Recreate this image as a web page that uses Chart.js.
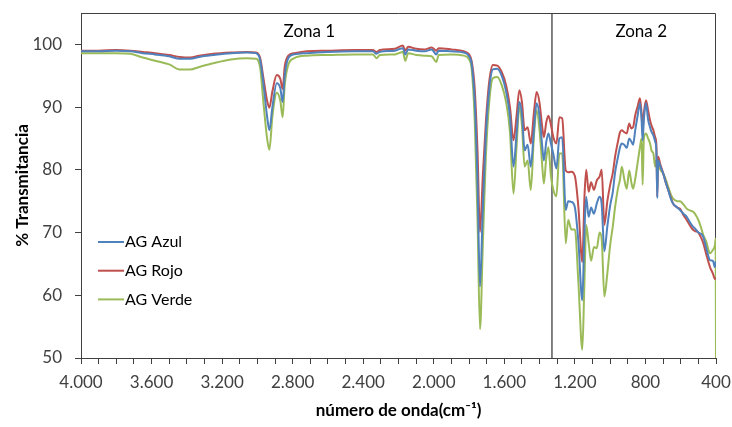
<!DOCTYPE html>
<html>
<head>
<meta charset="utf-8">
<script src="https://cdn.jsdelivr.net/npm/chart.js@4"></script>
<style>
  html, body { margin: 0; padding: 0; background: #fff; }
</style>
</head>
<body>
<canvas id="chart" width="732" height="427"></canvas>
<script>
// wavenumber (cm-1) and % transmittance for each sample
const wavenumber = [4000, 3900, 3800, 3720, 3650, 3580, 3500, 3440, 3380, 3330, 3250, 3150, 3060, 3010, 2985, 2965, 2945, 2932, 2915, 2890, 2870, 2857, 2845, 2825, 2790, 2720, 2600, 2450, 2345, 2325, 2305, 2220, 2175, 2162, 2145, 2100, 2050, 2012, 1986, 1972, 1900, 1830, 1800, 1785, 1768, 1752, 1738, 1722, 1705, 1685, 1665, 1640, 1615, 1590, 1568, 1548, 1530, 1515, 1500, 1485, 1468, 1450, 1432, 1417, 1400, 1386, 1376, 1362, 1350, 1336, 1322, 1305, 1288, 1272, 1252, 1238, 1220, 1200, 1180, 1158, 1146, 1136, 1122, 1108, 1092, 1076, 1060, 1048, 1033, 1016, 1000, 985, 972, 956, 944, 934, 920, 906, 892, 880, 870, 858, 845, 831, 822, 816, 809, 797, 785, 774, 765, 755, 745, 738, 733, 728, 715, 699, 685, 671, 655, 643, 620, 604, 585, 566, 545, 529, 515, 500, 485, 472, 455, 434, 418, 406, 402, 400];

const agAzul = [98.9, 98.9, 99.0, 98.9, 98.6, 98.4, 98.1, 97.7, 97.7, 98.0, 98.3, 98.6, 98.7, 98.6, 97.6, 93.5, 88.5, 86.3, 90.0, 93.8, 93.0, 90.8, 95.0, 97.8, 98.4, 98.6, 98.8, 98.9, 98.9, 98.5, 98.8, 99.0, 99.4, 98.4, 99.2, 99.0, 98.9, 99.2, 98.4, 99.0, 98.9, 98.7, 98.1, 96.8, 91.0, 78.0, 61.4, 74.0, 85.5, 93.0, 96.0, 96.1, 95.0, 92.5, 88.5, 80.5, 86.0, 90.8, 88.8, 83.1, 84.0, 80.5, 86.5, 90.6, 88.5, 84.0, 81.5, 84.5, 85.8, 84.2, 82.5, 80.2, 85.0, 85.2, 73.6, 75.0, 74.9, 74.0, 68.5, 59.2, 70.0, 75.7, 72.5, 74.0, 73.0, 74.6, 75.7, 74.5, 67.0, 71.0, 74.3, 76.5, 79.6, 82.0, 83.6, 84.2, 84.0, 83.5, 85.0, 84.5, 84.0, 86.3, 88.5, 90.6, 88.0, 84.7, 88.0, 90.6, 88.0, 86.8, 86.0, 85.5, 84.5, 83.0, 75.5, 81.5, 80.5, 79.4, 78.0, 76.8, 75.3, 74.6, 74.0, 73.6, 73.0, 72.5, 71.5, 70.9, 70.5, 70.0, 69.8, 69.3, 67.5, 65.6, 65.5, 64.5, 65.3, 65.4];

const agRojo = [99.0, 99.0, 99.1, 99.0, 98.8, 98.6, 98.3, 98.0, 97.9, 98.2, 98.5, 98.7, 98.8, 98.7, 97.9, 94.5, 91.0, 89.9, 92.5, 95.1, 94.5, 92.9, 96.5, 98.2, 98.6, 98.9, 99.0, 99.1, 99.1, 98.8, 99.1, 99.3, 99.8, 99.0, 99.6, 99.3, 99.2, 99.5, 99.0, 99.4, 99.2, 98.9, 98.4, 97.3, 93.0, 83.0, 70.1, 79.0, 87.5, 94.2, 96.7, 96.6, 95.6, 93.5, 90.0, 84.7, 88.8, 92.7, 90.8, 86.3, 86.8, 84.2, 89.2, 92.4, 90.6, 87.0, 85.2, 87.6, 88.6, 87.2, 85.2, 84.2, 88.4, 88.2, 79.9, 79.6, 79.7, 79.0, 74.0, 65.3, 75.5, 80.0, 76.5, 78.0, 76.8, 78.3, 78.9, 80.0, 71.2, 75.0, 77.6, 79.5, 82.1, 84.5, 86.0, 86.3, 86.0, 85.8, 87.4, 86.6, 86.8, 88.7, 90.0, 91.4, 89.0, 86.3, 89.0, 91.1, 89.5, 87.9, 87.0, 86.3, 85.2, 84.0, 75.7, 82.1, 80.8, 79.4, 78.0, 76.8, 75.5, 74.6, 74.0, 73.8, 72.8, 72.0, 71.0, 70.4, 70.2, 70.0, 69.2, 68.3, 66.5, 64.5, 63.5, 62.6, 62.7, 62.7];

const agVerde = [98.6, 98.6, 98.6, 98.5, 97.9, 97.4, 96.8, 96.0, 96.0, 96.4, 97.0, 97.6, 97.8, 97.7, 96.4, 90.5, 85.0, 83.2, 88.5, 92.3, 91.0, 88.4, 93.5, 96.7, 97.8, 98.2, 98.3, 98.4, 98.4, 97.8, 98.3, 98.4, 98.8, 97.4, 98.6, 98.3, 98.2, 98.1, 97.2, 98.3, 98.4, 98.2, 97.6, 96.0, 88.0, 72.0, 54.6, 68.0, 82.0, 91.0, 94.6, 94.8, 93.5, 90.8, 86.0, 76.2, 84.0, 90.0, 87.0, 80.5, 81.5, 76.8, 85.5, 89.5, 86.2, 81.0, 77.8, 82.0, 83.6, 79.0, 76.8, 75.8, 82.6, 82.6, 68.3, 72.0, 70.5, 70.5, 62.0, 51.3, 62.0, 71.2, 68.3, 65.5, 67.7, 67.5, 70.0, 69.0, 59.8, 63.5, 68.0, 71.0, 74.1, 77.0, 78.5, 80.5, 78.5, 77.0, 79.9, 78.0, 77.0, 78.5, 81.0, 83.6, 85.0, 77.6, 85.0, 85.8, 85.0, 84.2, 83.0, 82.6, 80.5, 81.5, 81.6, 81.0, 80.0, 79.4, 78.5, 77.3, 76.0, 75.4, 75.0, 75.0, 74.5, 73.8, 73.5, 73.3, 72.8, 72.0, 70.8, 69.6, 68.5, 66.7, 67.2, 68.0, 69.0, 50.0];

const seriesNames = ['AG Azul', 'AG Rojo', 'AG Verde'];
const seriesColors = ['#4F81BD', '#C0504D', '#9BBB59'];
const seriesValues = [agAzul, agRojo, agVerde];

const xTicksMajor = [4000, 3600, 3200, 2800, 2400, 2000, 1600, 1200, 800, 400];
const zoneBoundary = 1330;
const zoneNames = ['Zona 1', 'Zona 2'];
const zoneLabelAt = [2705, 824];

function fmtWn(v) {
    if (v >= 1000) return Math.floor(v / 1000) + '.' + String(v % 1000).padStart(3, '0');
    return String(v);
}

const datasets = seriesNames.map((name, i) => ({
    label: name,
    data: wavenumber.map((w, j) => ({ x: w, y: seriesValues[i][j] })),
    borderColor: seriesColors[i],
    borderWidth: 2,
    pointRadius: 0,
    fill: false,
    cubicInterpolationMode: 'monotone'
}));

// zone divider line
datasets.push({
    label: 'divider',
    data: [{ x: zoneBoundary, y: 50 }, { x: zoneBoundary, y: 105 }],
    borderColor: '#404040',
    borderWidth: 1.3,
    pointRadius: 0,
    fill: false
});

const framePlugin = {
    id: 'frame',
    beforeDatasetsDraw(chart) {
        const { ctx, chartArea: a } = chart;
        ctx.save();
        ctx.strokeStyle = '#404040';
        ctx.lineWidth = 1;
        ctx.beginPath();
        ctx.moveTo(a.left, a.top + 0.5);
        ctx.lineTo(a.right - 0.5, a.top + 0.5);
        ctx.lineTo(a.right - 0.5, a.bottom);
        ctx.stroke();
        ctx.restore();
    }
};

const zonePlugin = {
    id: 'zones',
    afterDatasetsDraw(chart) {
        const { ctx, scales: { x, y } } = chart;
        ctx.save();
        ctx.font = '17px Lato';
        ctx.fillStyle = '#000';
        ctx.textAlign = 'center';
        ctx.textBaseline = 'middle';
        zoneNames.forEach((t, i) => {
            ctx.fillText(t, x.getPixelForValue(zoneLabelAt[i]), y.getPixelForValue(102.1));
        });
        ctx.restore();
    }
};

const legendPlugin = {
    id: 'insideLegend',
    afterDatasetsDraw(chart) {
        const { ctx, chartArea: a } = chart;
        ctx.save();
        ctx.font = '16px Lato';
        ctx.textBaseline = 'middle';
        ctx.fillStyle = '#000';
        seriesNames.forEach((name, i) => {
            const yy = 242 + i * 28.7;
            ctx.strokeStyle = seriesColors[i];
            ctx.lineWidth = 2;
            ctx.beginPath();
            ctx.moveTo(a.left + 17, yy);
            ctx.lineTo(a.left + 43, yy);
            ctx.stroke();
            ctx.fillText(name, a.left + 44, yy);
        });
        ctx.restore();
    }
};

new Chart(document.getElementById('chart'), {
    type: 'line',
    data: { datasets },
    plugins: [framePlugin, zonePlugin, legendPlugin],
    options: {
        responsive: false,
        animation: false,
        layout: { padding: { top: 13, right: 16, left: 0, bottom: 0 } },
        plugins: { legend: { display: false }, tooltip: { enabled: false } },
        scales: {
            x: {
                type: 'linear',
                reverse: true,
                min: 400,
                max: 4000,
                afterFit: s => { s.height = 69; s.paddingLeft = 0; s.paddingRight = 0; },
                grid: { drawOnChartArea: false, tickLength: 6, color: '#404040' },
                border: { color: '#404040', width: 1 },
                ticks: {
                    stepSize: 100,
                    autoSkip: false,
                    maxRotation: 0,
                    padding: 8,
                    color: '#404040',
                    font: { family: 'Lato', size: 17 },
                    callback: v => (xTicksMajor.includes(v) ? fmtWn(v) : '')
                },
                title: {
                    display: true,
                    text: 'número de onda(cm⁻¹)',
                    color: '#000',
                    font: { family: 'Lato', size: 17, weight: 'bold' },
                    padding: { top: 0, bottom: 6 }
                }
            },
            y: {
                min: 50,
                max: 105,
                afterFit: s => { s.width = 81; s.paddingTop = 0; s.paddingBottom = 0; },
                grid: { drawOnChartArea: false, tickLength: 6, color: '#404040' },
                border: { color: '#404040', width: 1 },
                ticks: {
                    stepSize: 10,
                    padding: 13,
                    color: '#404040',
                    font: { family: 'Lato', size: 17 },
                    callback: v => (v <= 100 ? v : null)
                },
                title: {
                    display: true,
                    text: '% Transmitancia',
                    color: '#000',
                    font: { family: 'Lato', size: 17, weight: 'bold' },
                    padding: { top: 12, bottom: 0 }
                }
            }
        }
    }
});
</script>
</body>
</html>
